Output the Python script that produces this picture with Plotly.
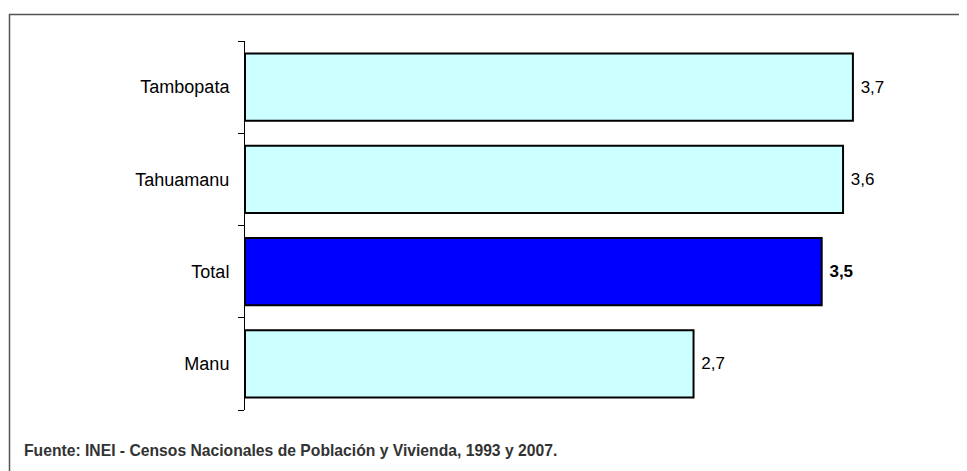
import plotly.graph_objects as go

categories = ["Manu", "Total", "Tahuamanu", "Tambopata"]
values = [2.73, 3.51, 3.64, 3.70]
colors = ["#CCFFFF", "#0000FF", "#CCFFFF", "#CCFFFF"]
label_templates = ["\u00a0%{x:.1f}", "\u00a0<b>%{x:.1f}</b>", "\u00a0%{x:.1f}", "\u00a0%{x:.1f}"]
source_note = "Fuente: INEI - Censos Nacionales de Población y Vivienda, 1993 y 2007."

FONT = "Liberation Sans Narrow, Arial Narrow, Liberation Sans, Arial, sans-serif"

OFF = 8  # page body margin
W, H = 967 + OFF, 471 + OFF
ml, mr, mt, mb = 245 - OFF, 40 + OFF, 41 - OFF, 69 + OFF
pw, ph = W - ml - mr, H - mt - mb

fig = go.Figure(go.Bar(
    y=categories, x=values, orientation="h",
    marker=dict(color=colors, line=dict(color="black", width=2)),
    width=0.73,
    texttemplate=label_templates, textposition="outside",
    textfont=dict(family=FONT, size=17, color="black"),
    cliponaxis=False,
))

def px_x(px):
    return (px - OFF - ml) / pw

def px_y(py):
    return (H - mb - (py - OFF)) / ph

fig.add_shape(type="rect", xref="paper", yref="paper",
              x0=px_x(9.5), x1=px_x(W + 40), y0=px_y(H + 40), y1=px_y(14.5),
              line=dict(color="#555555", width=1.5), layer="below")

fig.add_annotation(text=source_note, xref="paper", yref="paper",
                   x=px_x(22), y=px_y(450), xanchor="left", yanchor="middle",
                   showarrow=False,
                   font=dict(family=FONT, size=15.7, color="#333333", weight="bold"))

fig.update_layout(
    width=W, height=H,
    margin=dict(l=ml, r=mr, t=mt, b=mb),
    paper_bgcolor="white", plot_bgcolor="white",
    separators=",.",
    showlegend=False,
    xaxis=dict(range=[0, pw / 164.3], visible=False, showgrid=False, zeroline=False),
    yaxis=dict(range=[-0.5, 3.5], showline=True, linecolor="black", linewidth=1,
               ticks="outside", ticklen=6, tickcolor="black", tickson="boundaries",
               ticklabelstandoff=11,
               tickfont=dict(family=FONT, size=18, color="black"),
               showgrid=False, zeroline=False),
)

fig.write_html("out.html")
